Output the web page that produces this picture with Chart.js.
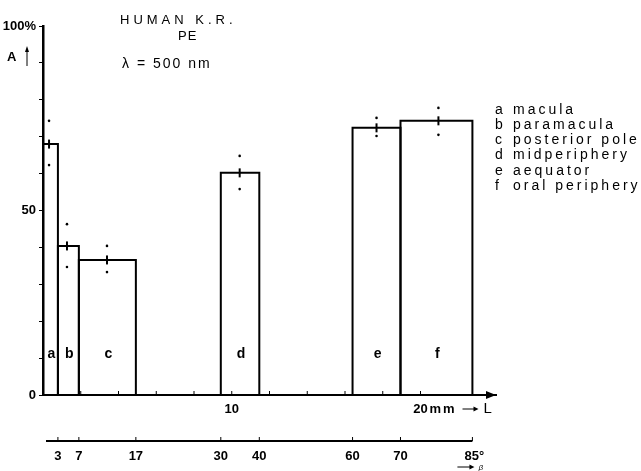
<!DOCTYPE html>
<html>
<head>
<meta charset="utf-8">
<script src="https://cdn.jsdelivr.net/npm/chart.js@4/dist/chart.umd.min.js"></script>
<style>
    body { margin: 0; background: #ffffff; }
</style>
</head>
<body>
<canvas id="grafico" width="641" height="471"></canvas>
<script>
// regions of the fundus
const regionLetters = ['a', 'b', 'c', 'd', 'e', 'f'];
const regionNames = ['macula', 'paramacula', 'posterior pole', 'midperiphery', 'aequator', 'oral periphery'];

// bar edges along L (mm)
const barStart = [0, 0.79, 1.9, 9.42, 16.4, 18.94];
const barEnd = [0.79, 1.9, 4.92, 11.46, 18.94, 22.75];

// mean absorbance A and the single measurements
const meanA = [68.0, 40.4, 36.6, 60.2, 72.4, 74.3];
const sampleL = [0.32, 1.27, 3.39, 10.42, 17.67, 20.95];
const sampleHigh = [74.3, 46.3, 40.4, 64.8, 75.1, 77.8];
const sampleLow = [62.3, 34.7, 33.3, 55.8, 70.2, 70.5];

// second scale: angle beta (degrees) and where it sits on L (mm)
const betaLabels = ['3', '7', '17', '30', '40', '60', '70', '85°'];
const betaAtL = [0.79, 1.9, 4.92, 9.42, 11.46, 16.4, 18.94, 22.75];

const yLabels = { 0: '0', 50: '50', 100: '100%' };
const xLabels = { 10: '10', 20: '20' };

const fonte = "'Liberation Sans', Arial, sans-serif";

const barDatasets = regionLetters.map((r, i) => ({
    type: 'line',
    label: r,
    data: [
        { x: barStart[i], y: 0 },
        { x: barStart[i], y: meanA[i] },
        { x: barEnd[i], y: meanA[i] },
        { x: barEnd[i], y: 0 }
    ],
    borderColor: '#000000',
    borderWidth: 2,
    pointRadius: 0,
    fill: false,
    tension: 0
}));

const errorDataset = {
    type: 'scatter',
    label: 'mean',
    data: meanA.map((v, i) => ({ x: sampleL[i], y: v })),
    pointStyle: 'line',
    rotation: 90,
    pointRadius: 4.5,
    borderColor: '#000000',
    borderWidth: 2
};

const samplesDataset = {
    type: 'scatter',
    label: 'samples',
    data: sampleL.map((l, i) => ({ x: l, y: sampleHigh[i] }))
        .concat(sampleL.map((l, i) => ({ x: l, y: sampleLow[i] }))),
    pointRadius: 1.3,
    backgroundColor: '#000000',
    borderWidth: 0
};

const extras = {
    id: 'extras',
    afterDraw(chart) {
        const ctx = chart.ctx;
        const x = chart.scales.x;
        const y = chart.scales.y;
        const area = chart.chartArea;
        ctx.save();
        ctx.fillStyle = '#000000';
        ctx.strokeStyle = '#000000';

        // small ticks pointing up from the L axis
        ctx.lineWidth = 1;
        x.ticks.forEach(t => {
            if (t.value <= 0 || t.value > 20) return;
            const px = x.getPixelForValue(t.value);
            ctx.beginPath();
            ctx.moveTo(px, area.bottom);
            ctx.lineTo(px, area.bottom - 4);
            ctx.stroke();
        });

        // arrow at the end of the L axis
        ctx.beginPath();
        ctx.moveTo(area.right, area.bottom);
        ctx.lineTo(area.right - 10, area.bottom - 4);
        ctx.lineTo(area.right - 10, area.bottom + 4);
        ctx.closePath();
        ctx.fill();

        // "mm -> L"
        const x20 = x.getPixelForValue(20);
        const yLab = area.bottom + 14;
        ctx.textBaseline = 'middle';
        ctx.textAlign = 'left';
        ctx.font = 'bold 13px ' + fonte;
        ctx.letterSpacing = '2px';
        ctx.fillText('mm', x20 + 9, yLab);
        ctx.letterSpacing = '0px';
        ctx.lineWidth = 1;
        ctx.beginPath();
        ctx.moveTo(x20 + 42, yLab);
        ctx.lineTo(x20 + 55, yLab);
        ctx.stroke();
        ctx.beginPath();
        ctx.moveTo(x20 + 58, yLab);
        ctx.lineTo(x20 + 53, yLab - 2.5);
        ctx.lineTo(x20 + 53, yLab + 2.5);
        ctx.closePath();
        ctx.fill();
        ctx.font = '15px ' + fonte;
        ctx.fillText('L', x20 + 63, yLab);

        // region letters inside the bars
        ctx.font = 'bold 14px ' + fonte;
        ctx.textAlign = 'center';
        regionLetters.forEach((r, i) => {
            const cx = (x.getPixelForValue(barStart[i]) + x.getPixelForValue(barEnd[i])) / 2;
            ctx.fillText(r, cx + 1, y.getPixelForValue(11));
        });

        // beta scale under the plot
        const yb = area.bottom + 46;
        ctx.lineWidth = 2;
        ctx.beginPath();
        ctx.moveTo(x.getPixelForValue(0) + 3, yb);
        ctx.lineTo(x.getPixelForValue(betaAtL[betaAtL.length - 1]), yb);
        ctx.stroke();
        ctx.lineWidth = 1;
        ctx.font = 'bold 13px ' + fonte;
        betaAtL.forEach((l, i) => {
            const px = x.getPixelForValue(l);
            ctx.beginPath();
            ctx.moveTo(px, yb);
            ctx.lineTo(px, yb - 4);
            ctx.stroke();
            ctx.fillText(betaLabels[i], px + (i === betaLabels.length - 1 ? 2 : 0), yb + 15);
        });
        const xe = x.getPixelForValue(betaAtL[betaAtL.length - 1]);
        ctx.beginPath();
        ctx.moveTo(xe - 15, yb + 26);
        ctx.lineTo(xe - 1, yb + 26);
        ctx.stroke();
        ctx.beginPath();
        ctx.moveTo(xe + 2, yb + 26);
        ctx.lineTo(xe - 3, yb + 23.5);
        ctx.lineTo(xe - 3, yb + 28.5);
        ctx.closePath();
        ctx.fill();
        ctx.font = 'italic 8px ' + fonte;
        ctx.textAlign = 'left';
        ctx.fillText('β', xe + 6, yb + 27);

        // legend on the right
        ctx.font = '14px ' + fonte;
        ctx.letterSpacing = '3px';
        regionLetters.forEach((r, i) => {
            const yy = 110 + i * 15.2;
            ctx.fillText(r, 495, yy);
            ctx.fillText(regionNames[i], 513, yy);
        });

        // title block
        ctx.font = '13px ' + fonte;
        ctx.letterSpacing = '4px';
        ctx.fillText('HUMAN K.R.', 120, 20);
        ctx.letterSpacing = '1px';
        ctx.fillText('PE', 178, 36);
        ctx.font = '14px ' + fonte;
        ctx.letterSpacing = '2px';
        ctx.fillText('λ = 500 nm', 122, 64);

        // y axis name
        ctx.letterSpacing = '0px';
        ctx.font = 'bold 13px ' + fonte;
        ctx.fillText('A', 7, 57);
        ctx.lineWidth = 1;
        ctx.beginPath();
        ctx.moveTo(27, 66);
        ctx.lineTo(27, 50);
        ctx.stroke();
        ctx.beginPath();
        ctx.moveTo(27, 46);
        ctx.lineTo(25, 52);
        ctx.lineTo(29, 52);
        ctx.closePath();
        ctx.fill();

        ctx.restore();
    }
};

const config = {
    data: {
        datasets: barDatasets.concat([errorDataset, samplesDataset])
    },
    options: {
        responsive: false,
        animation: false,
        devicePixelRatio: 1,
        layout: {
            padding: { left: 0, top: 26, right: 145, bottom: 0 }
        },
        plugins: {
            legend: { display: false },
            title: { display: false },
            tooltip: { enabled: false }
        },
        scales: {
            x: {
                type: 'linear',
                min: 0,
                max: 24,
                ticks: {
                    stepSize: 2,
                    autoSkip: false,
                    maxRotation: 0,
                    padding: 7,
                    color: '#000000',
                    font: { family: fonte, size: 13, weight: 'bold' },
                    callback: v => xLabels[v] || ''
                },
                grid: { display: false, drawTicks: false },
                border: { display: true, color: '#000000', width: 2 },
                afterFit: s => { s.height = 76; }
            },
            y: {
                type: 'linear',
                min: 0,
                max: 100,
                ticks: {
                    stepSize: 10,
                    autoSkip: false,
                    padding: 3,
                    color: '#000000',
                    font: { family: fonte, size: 13, weight: 'bold' },
                    callback: v => yLabels[v] || ''
                },
                grid: { display: true, drawOnChartArea: false, drawTicks: true, tickLength: 4, color: '#000000' },
                border: { display: true, color: '#000000', width: 2.5 },
                afterFit: s => { s.width = 43; }
            }
        }
    },
    plugins: [extras]
};

const grafico = new Chart(document.getElementById('grafico'), config);
</script>
</body>
</html>
